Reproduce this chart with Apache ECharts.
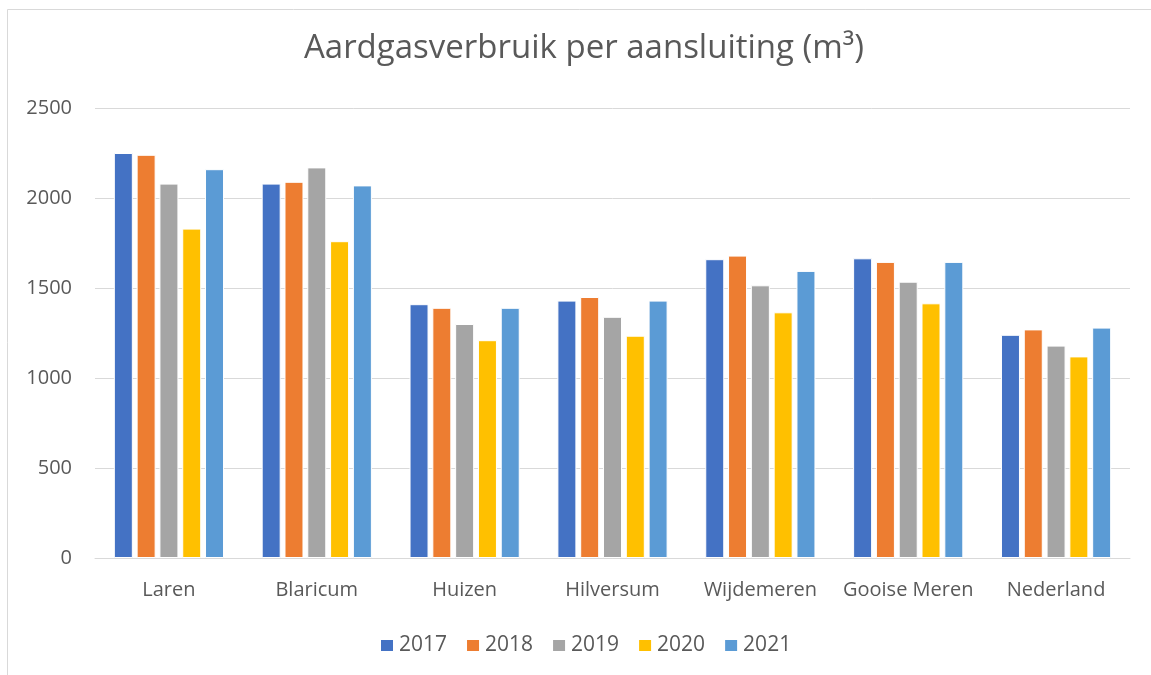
<!DOCTYPE html>
<html>
<head>
<meta charset="utf-8">
<script src="https://cdn.jsdelivr.net/npm/echarts@6/dist/echarts.min.js"></script>
<style>
  html, body { margin: 0; padding: 0; background: #fff; }
  #chart { width: 1151px; height: 675px; }
</style>
</head>
<body>
<div id="chart"></div>
<script>
// gemeenten op de x-as
const categories = ['Laren', 'Blaricum', 'Huizen', 'Hilversum', 'Wijdemeren', 'Gooise Meren', 'Nederland'];
const years = ['2017', '2018', '2019', '2020', '2021'];

// verbruik per jaar (m3)
const values2017 = [2250, 2080, 1410, 1430, 1660, 1665, 1240];
const values2018 = [2240, 2090, 1390, 1450, 1680, 1645, 1270];
const values2019 = [2080, 2170, 1300, 1340, 1515, 1535, 1180];
const values2020 = [1830, 1760, 1210, 1235, 1365, 1415, 1120];
const values2021 = [2160, 2070, 1390, 1430, 1595, 1645, 1280];

const yTicks = [0, 500, 1000, 1500, 2000, 2500];

const colors = ['#4472C4', '#ED7D31', '#A5A5A5', '#FFC000', '#5B9BD5'];
const seriesValues = [values2017, values2018, values2019, values2020, values2021];
const textColor = '#595959';
const fontFamily = '"Open Sans", sans-serif';

const chart = echarts.init(document.getElementById('chart'));

const option = {
  animation: false,
  backgroundColor: '#fff',
  color: colors,
  graphic: [
    {
      // kader rond de grafiek
      type: 'rect',
      shape: { x: 7.5, y: 9.5, width: 1170, height: 700 },
      style: { fill: 'none', stroke: '#d9d9d9', lineWidth: 1 },
      silent: true
    }
  ],
  title: {
    text: 'Aardgasverbruik per aansluiting (m³)',
    left: 584,
    top: 32,
    padding: 0,
    textAlign: 'center',
    textStyle: {
      color: textColor,
      fontFamily: fontFamily,
      fontSize: 33,
      fontWeight: 'normal'
    }
  },
  legend: {
    data: years,
    left: 379,
    top: 635,
    padding: 0,
    itemWidth: 14,
    itemHeight: 13,
    itemGap: 18,
    icon: 'rect',
    textStyle: {
      color: textColor,
      fontFamily: fontFamily,
      fontSize: 21,
      padding: [0, 0, 0, 0]
    }
  },
  grid: {
    left: 95,
    right: 21,
    top: 108,
    bottom: 117
  },
  xAxis: {
    type: 'category',
    data: categories,
    axisLine: { lineStyle: { color: '#d9d9d9', width: 1 } },
    axisTick: { show: false },
    axisLabel: {
      interval: 0,
      color: textColor,
      fontFamily: fontFamily,
      fontSize: 20,
      margin: 22
    }
  },
  yAxis: {
    type: 'value',
    min: yTicks[0],
    max: yTicks[yTicks.length - 1],
    interval: 500,
    axisLine: { show: false },
    axisTick: { show: false },
    splitLine: { lineStyle: { color: '#d9d9d9', width: 1 } },
    axisLabel: {
      color: textColor,
      fontFamily: fontFamily,
      fontSize: 20,
      margin: 23,
      formatter: (v) => String(v)
    }
  },
  series: years.map((year, i) => ({
    name: year,
    type: 'bar',
    data: seriesValues[i],
    barWidth: 19,
    barGap: '20%',
    itemStyle: {
      color: colors[i],
      borderColor: '#ffffff',
      borderWidth: 1
    }
  }))
};

chart.setOption(option);
</script>
</body>
</html>
